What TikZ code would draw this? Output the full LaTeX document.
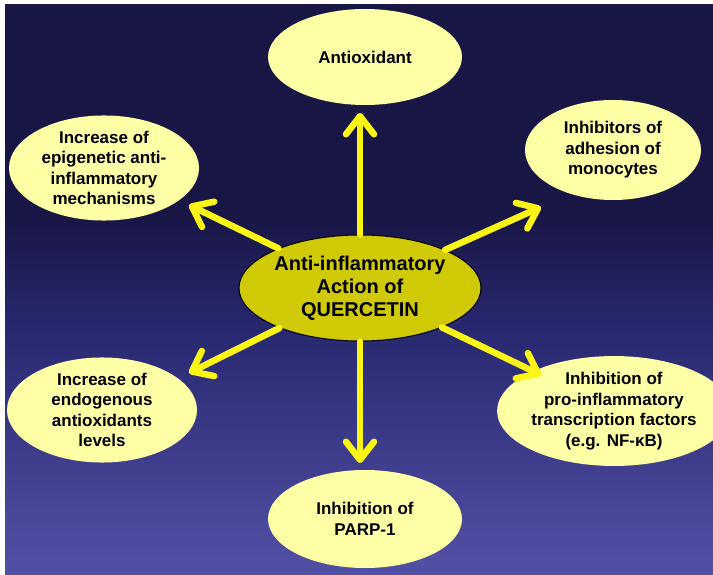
\documentclass[tikz,border=0pt]{standalone}
\usepackage{fontspec}
\setmainfont{Liberation Sans}
\usetikzlibrary{shapes.geometric,arrows.meta}
\definecolor{bgtop}{RGB}{24,22,68}
\definecolor{bgmid}{RGB}{40,40,112}
\definecolor{bgbot}{RGB}{84,82,168}
\definecolor{ell}{RGB}{255,255,165}
\definecolor{cell}{RGB}{208,202,6}
\definecolor{arry}{RGB}{250,245,20}
\pgfdeclareverticalshading{bgshade}{100bp}{color(0bp)=(bgbot); color(25bp)=(bgbot); color(47bp)=(bgmid); color(57bp)=(bgtop); color(75bp)=(bgtop); color(100bp)=(bgtop)}
\begin{document}
\begin{tikzpicture}[x=1pt,y=-1pt,
  bubble/.style={ellipse, fill=ell, inner sep=0pt, align=center,
    font=\fontsize{17}{20.6}\selectfont\bfseries, text=black},
  arr/.style={draw=arry, line width=6.5pt, line cap=round,
    -{Straight Barb[length=18pt,width=28pt,round]}}]
\useasboundingbox (0,0) rectangle (713,575);
\fill[white] (0,0) rectangle (713,575);
\shade[shading=bgshade] (5,5) rectangle (720,582);

\node[bubble, minimum width=194pt, minimum height=96pt] (ant) at (365,57) {Antioxidant};
\node[bubble, minimum width=176pt, minimum height=100pt] (adh) at (613,150) {Inhibitors of\\adhesion of\\monocytes};
\node[bubble, minimum width=190pt, minimum height=94pt] (epi) at (104,168) {Increase of\\epigenetic anti-\\inflammatory\\mechanisms};
\node[bubble, minimum width=190pt, minimum height=100pt] (endo) at (102,410) {Increase of\\endogenous\\antioxidants\\levels};
\node[bubble, minimum width=188pt, minimum height=100pt] (tf) at (614,411) {Inhibition of\\pro-inflammatory\\transcription factors\\(e.g. NF-κB)};
\node[bubble, minimum width=194pt, minimum height=98pt] (parp) at (365,519) {Inhibition of\\PARP-1};
\node[ellipse, fill=cell, draw=black, line width=1pt, inner sep=0pt, align=center,
  minimum width=196pt, minimum height=106pt,
  font=\fontsize{20}{22.8}\selectfont\bfseries] (c) at (360,288) {Anti-inflammatory\\Action of\\QUERCETIN};

\coordinate (tN) at (360,113);
\coordinate (tS) at (360,463);
\coordinate (tNE) at (541,207);
\coordinate (tNW) at (189,205);
\coordinate (tSW) at (189,373);
\coordinate (tSE) at (541,375);

\draw[arr] (c) -- (tN);
\draw[arr] (c) -- (tS);
\draw[arr] (c) -- (tNE);
\draw[arr] (c) -- (tNW);
\draw[arr] (c) -- (tSW);
\draw[arr] (c) -- (tSE);
\end{tikzpicture}
\end{document}
